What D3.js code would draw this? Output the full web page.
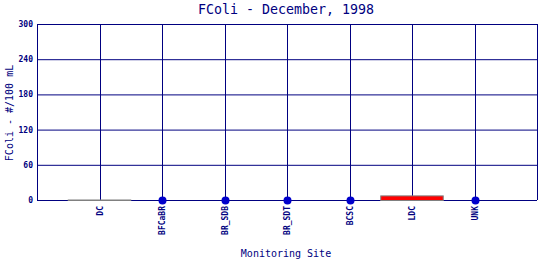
<!DOCTYPE html>
<html><head><meta charset="utf-8">
<script src="https://cdn.jsdelivr.net/npm/d3@7"></script>
<style>body{margin:0;background:#fff}svg{display:block}text{font-family:"DejaVu Sans Mono","Liberation Mono",monospace;fill:#000080}</style>
</head><body>
<script>
const categories = ["DC","BFCaBR","BR_SDB","BR_SDT","BCSC","LDC","UNK"];
const values = [0,0,0,0,0,7,0];
const markTypes = ["bar","dot","dot","dot","dot","bar","dot"];
const yTicks = [0,60,120,180,240,300];
const title = "FColi - December, 1998";
const xTitle = "Monitoring Site";
const yTitle = "FColi - #/100 mL";

const W=540,H=260, L=37, R=537, T=24, B=200;
const svg=d3.select("body").append("svg").attr("width",W).attr("height",H);
const x=d3.scalePoint().domain(categories).range([L,R]).padding(1);
const y=d3.scaleLinear().domain([0,300]).range([B,T]);
const navy="#000080";

// frame / grid
const g=svg.append("g");
g.selectAll("line.h").data(yTicks).join("line")
 .attr("x1",L).attr("x2",R).attr("y1",d=>y(d)+0.5).attr("y2",d=>y(d)+0.5)
 .attr("stroke",navy).attr("stroke-width",1);
g.selectAll("line.v").data(categories).join("line")
 .attr("x1",d=>Math.round(x(d))+0.5).attr("x2",d=>Math.round(x(d))+0.5).attr("y1",T).attr("y2",B)
 .attr("stroke",navy).attr("stroke-width",1);
g.append("line").attr("x1",L+0.5).attr("x2",L+0.5).attr("y1",T).attr("y2",B).attr("stroke",navy);
g.append("line").attr("x1",R+0.5).attr("x2",R+0.5).attr("y1",T).attr("y2",B).attr("stroke",navy);

// y tick labels
svg.selectAll("text.yt").data(yTicks).join("text")
 .attr("x",33).attr("y",d=>y(d)+3).attr("text-anchor","end")
 .attr("font-size",8).attr("font-weight","bold").text(d=>d);

// x tick labels
svg.selectAll("text.xt").data(categories).join("text")
 .attr("transform",d=>`translate(${Math.round(x(d))+3},206) rotate(-90)`)
 .attr("text-anchor","end").attr("font-size",8).attr("font-weight","bold").text(d=>d);

// marks
const data=categories.map((c,i)=>({c,v:values[i],t:markTypes[i]}));
const step=x.step();
svg.selectAll("rect.bar").data(data.filter(d=>d.t==="bar")).join("rect")
 .attr("x",d=>x(d.c)-step/2).attr("width",step)
 .attr("y",d=>y(d.v)).attr("height",d=>y(0)-y(d.v)+0.5)
 .attr("fill","#ff0000").attr("stroke","#808080").attr("stroke-width",1);
svg.selectAll("circle.dot").data(data.filter(d=>d.t==="dot")).join("circle")
 .attr("cx",d=>Math.round(x(d.c))+0.5).attr("cy",d=>y(d.v)+0.5).attr("r",4)
 .attr("fill","#0000cc");

// titles
svg.append("text").attr("x",286).attr("y",14).attr("text-anchor","middle").attr("font-size",13.3).text(title);
svg.append("text").attr("x",286).attr("y",257).attr("text-anchor","middle").attr("font-size",10).text(xTitle);
svg.append("text").attr("transform","translate(13,113) rotate(-90)").attr("text-anchor","middle").attr("font-size",10).text(yTitle);
</script>
</body></html>
